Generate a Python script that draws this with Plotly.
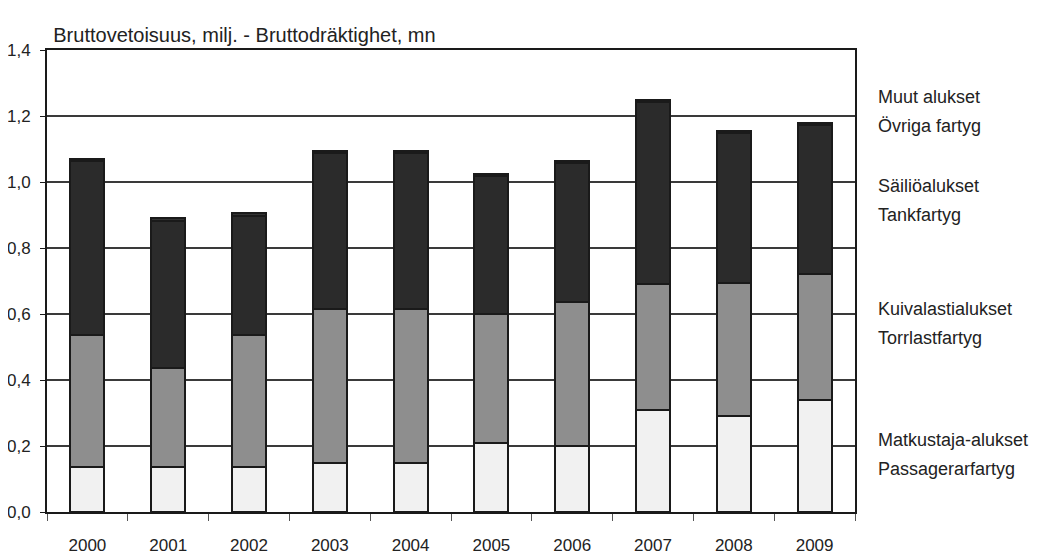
import plotly.graph_objects as go

years = ['2000', '2001', '2002', '2003', '2004', '2005', '2006', '2007', '2008', '2009']
passenger = [0.135, 0.135, 0.135, 0.15, 0.15, 0.21, 0.20, 0.31, 0.29, 0.34]
dry_cargo = [0.40, 0.30, 0.40, 0.465, 0.465, 0.39, 0.435, 0.38, 0.405, 0.38]
tankers = [0.528, 0.448, 0.363, 0.473, 0.473, 0.418, 0.423, 0.553, 0.453, 0.453]
other = [0.007, 0.007, 0.007, 0.007, 0.007, 0.007, 0.007, 0.007, 0.007, 0.007]

names = ['Matkustaja-alukset', 'Kuivalastialukset', 'Säiliöalukset', 'Muut alukset']
names_sv = ['Passagerarfartyg', 'Torrlastfartyg', 'Tankfartyg', 'Övriga fartyg']
values = [passenger, dry_cargo, tankers, other]
colors = ['#f1f1f1', '#8e8e8e', '#2b2b2b', '#333333']

# label rows, in paper coords (first line, second line)
label_pos = [(0.155, 0.094), (0.439, 0.376), (0.705, 0.642), (0.898, 0.835)]

font = 'Liberation Sans, Arial'

fig = go.Figure()
for name, sv, vals, col in zip(names, names_sv, values, colors):
    fig.add_trace(go.Bar(
        x=years, y=vals, name=f'{name} / {sv}',
        marker=dict(color=col, line=dict(color='#1a1a1a', width=2)),
        width=0.42,
    ))

for name, sv, (y1, y2) in zip(names, names_sv, label_pos):
    for txt, yy in ((name, y1), (sv, y2)):
        fig.add_annotation(
            x=1.026, xref='paper', y=yy, yref='paper',
            text=txt, showarrow=False, xanchor='left', yanchor='middle',
            align='left', font=dict(size=18, color='#222'),
        )

# page body has an 8px margin, so the figure is a little smaller
fig.update_layout(
    barmode='stack',
    width=1029, height=549,
    margin=dict(l=39, r=182, t=42, b=45),
    paper_bgcolor='white', plot_bgcolor='white',
    showlegend=False,
    separators=', ',
    font=dict(family=font, size=17, color='#222'),
    title=dict(text='Bruttovetoisuus, milj. - Bruttodräktighet, mn',
               x=0.044, xanchor='left', y=0.951, yanchor='middle',
               font=dict(size=20, color='#222')),
)
fig.update_yaxes(
    range=[0, 1.4], dtick=0.2, tickformat='.1f',
    showgrid=True, gridcolor='#3a3a3a', gridwidth=1.5,
    showline=True, linecolor='#1a1a1a', linewidth=2, mirror=True,
    ticks='outside', ticklen=5, tickcolor='#1a1a1a',
    ticklabelstandoff=6, automargin=False,
    zeroline=False,
)
fig.update_xaxes(
    showline=True, linecolor='#1a1a1a', linewidth=2, mirror=True,
    ticks='outside', tickson='boundaries', ticklen=7, tickcolor='#555',
    ticklabelstandoff=17, automargin=False,
)

fig.write_html('out.html')
